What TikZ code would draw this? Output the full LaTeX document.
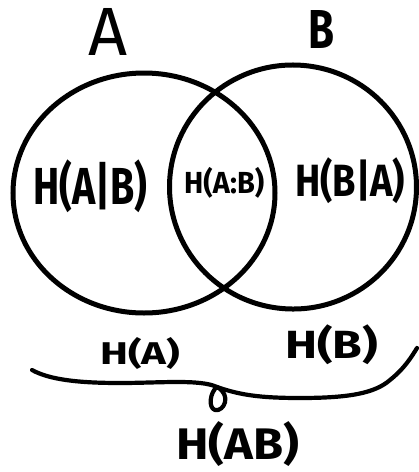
\documentclass[tikz,border=0pt]{standalone}
\usepackage{fontspec}
\setmainfont{Fira Sans}
\usepackage{graphicx}
\usetikzlibrary{shapes.geometric}
\tikzset{
  ring/.style={draw, ellipse, line width=5pt, inner sep=0pt},
  lbl/.style={inner sep=0pt, anchor=north west, font=\bfseries},
  stroke/.style={line width=4.2pt, line cap=round, line join=round}
}
\newcommand{\fitbox}[3]{\resizebox*{#1pt}{#2pt}{#3}}
\begin{document}
\begin{tikzpicture}[x=1pt, y=-1pt]
\useasboundingbox (0,0) rectangle (419,472);
\node[ring, minimum width=262pt, minimum height=240pt] (cA) at (144,193) {};
\node[ring, minimum width=247pt, minimum height=244pt, rotate=-3] (cB) at (293,187) {};
\node[lbl] (tA) at (88,8) {\fitbox{39}{47}{\mdseries A}};
\node[lbl] (tB) at (308,10) {\fitbox{26}{38}{B}};
\node[lbl] (hab) at (33,160) {\fitbox{114}{53}{H(A|B)}};
\node[lbl] (hi) at (184,167) {\fitbox{80}{31}{H(A:B)}};
\node[lbl] (hba) at (295,157) {\fitbox{110}{46}{H(B|A)}};
\node[lbl] (ha) at (100,337) {\fitbox{80}{32}{H(A)}};
\node[lbl] (hb) at (285,325) {\fitbox{93}{40}{H(B)}};
\node[lbl] (habj) at (176,421) {\fitbox{123}{45}{H(AB)}};
\coordinate (bl) at (32,370);
\coordinate (bm) at (217,387);
\coordinate (br) at (417,348);
\draw[stroke] (bl) .. controls (50,380) and (80,383) .. (120,383)
  .. controls (160,383) and (200,379) .. (bm)
  .. controls (240,395) and (260,398) .. (300,398)
  .. controls (350,398) and (375,393) .. (390,380)
  .. controls (405,368) and (412,356) .. (br);
\draw[stroke] (bm) .. controls (210,392) and (208,408) .. (215,410)
  .. controls (224,412) and (232,395) .. (bm);
\end{tikzpicture}
\end{document}
